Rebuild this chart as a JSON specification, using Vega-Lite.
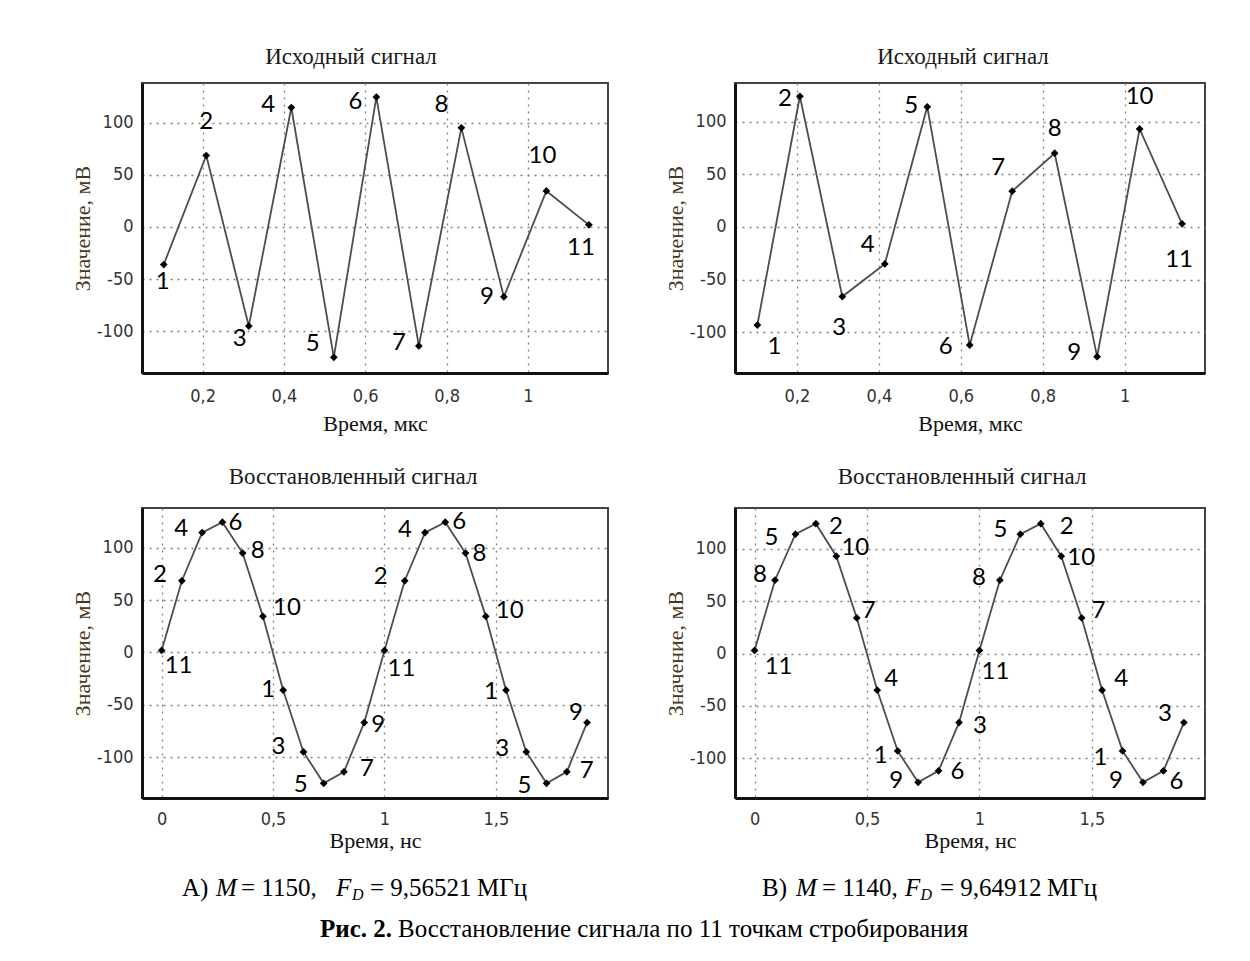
{
  "$schema": "https://vega.github.io/schema/vega-lite/v6.json",
  "padding": {"left": 70, "top": 45, "right": 0, "bottom": 0},
  "background": "white",
  "datasets": {
    "tl": [
      {"t": 0.1045, "v": -36, "n": 1}, {"t": 0.2091, "v": 68.5, "n": 2}, {"t": 0.3136, "v": -95, "n": 3},
      {"t": 0.4182, "v": 114.5, "n": 4}, {"t": 0.5227, "v": -125, "n": 5}, {"t": 0.6273, "v": 124.5, "n": 6},
      {"t": 0.7318, "v": -114, "n": 7}, {"t": 0.8364, "v": 95, "n": 8}, {"t": 0.9409, "v": -67, "n": 9},
      {"t": 1.0455, "v": 34.5, "n": 10}, {"t": 1.15, "v": 2, "n": 11}
    ],
    "tr": [
      {"t": 0.1036, "v": -93, "n": 1}, {"t": 0.2073, "v": 124, "n": 2}, {"t": 0.3109, "v": -66, "n": 3},
      {"t": 0.4146, "v": -35, "n": 4}, {"t": 0.5182, "v": 114, "n": 5}, {"t": 0.6218, "v": -112, "n": 6},
      {"t": 0.7255, "v": 34, "n": 7}, {"t": 0.8291, "v": 70, "n": 8}, {"t": 0.9327, "v": -123, "n": 9},
      {"t": 1.0364, "v": 93, "n": 10}, {"t": 1.14, "v": 3, "n": 11}
    ],
    "bl": [
      {"t": 0, "v": 2, "n": 11}, {"t": 0.0909, "v": 68.5, "n": 2}, {"t": 0.1818, "v": 114.5, "n": 4},
      {"t": 0.2727, "v": 124.5, "n": 6}, {"t": 0.3636, "v": 95, "n": 8}, {"t": 0.4545, "v": 34.5, "n": 10},
      {"t": 0.5455, "v": -36, "n": 1}, {"t": 0.6364, "v": -95, "n": 3}, {"t": 0.7273, "v": -125, "n": 5},
      {"t": 0.8182, "v": -114, "n": 7}, {"t": 0.9091, "v": -67, "n": 9},
      {"t": 1.0, "v": 2, "n": 11}, {"t": 1.0909, "v": 68.5, "n": 2}, {"t": 1.1818, "v": 114.5, "n": 4},
      {"t": 1.2727, "v": 124.5, "n": 6}, {"t": 1.3636, "v": 95, "n": 8}, {"t": 1.4545, "v": 34.5, "n": 10},
      {"t": 1.5455, "v": -36, "n": 1}, {"t": 1.6364, "v": -95, "n": 3}, {"t": 1.7273, "v": -125, "n": 5},
      {"t": 1.8182, "v": -114, "n": 7}, {"t": 1.9091, "v": -67, "n": 9}
    ],
    "br": [
      {"t": 0, "v": 3, "n": 11}, {"t": 0.0909, "v": 70, "n": 8}, {"t": 0.1818, "v": 114, "n": 5},
      {"t": 0.2727, "v": 124, "n": 2}, {"t": 0.3636, "v": 93, "n": 10}, {"t": 0.4545, "v": 34, "n": 7},
      {"t": 0.5455, "v": -35, "n": 4}, {"t": 0.6364, "v": -93, "n": 1}, {"t": 0.7273, "v": -123, "n": 9},
      {"t": 0.8182, "v": -112, "n": 6}, {"t": 0.9091, "v": -66, "n": 3},
      {"t": 1.0, "v": 3, "n": 11}, {"t": 1.0909, "v": 70, "n": 8}, {"t": 1.1818, "v": 114, "n": 5},
      {"t": 1.2727, "v": 124, "n": 2}, {"t": 1.3636, "v": 93, "n": 10}, {"t": 1.4545, "v": 34, "n": 7},
      {"t": 1.5455, "v": -35, "n": 4}, {"t": 1.6364, "v": -93, "n": 1}, {"t": 1.7273, "v": -123, "n": 9},
      {"t": 1.8182, "v": -112, "n": 6}, {"t": 1.9091, "v": -66, "n": 3}
    ],
    "cap": [
      {"col": "A", "row": "sub", "k": 0, "s": "А)"},
      {"col": "A", "row": "sub", "k": 1, "s": "M"},
      {"col": "A", "row": "sub", "k": 2, "s": "= 1150,"},
      {"col": "A", "row": "sub", "k": 3, "s": "F"},
      {"col": "A", "row": "sub", "k": 4, "s": "D"},
      {"col": "A", "row": "sub", "k": 5, "s": "= 9,56521"},
      {"col": "A", "row": "sub", "k": 6, "s": "МГц"},
      {"col": "B", "row": "sub", "k": 0, "s": "В)"},
      {"col": "B", "row": "sub", "k": 1, "s": "M"},
      {"col": "B", "row": "sub", "k": 2, "s": "= 1140,"},
      {"col": "B", "row": "sub", "k": 3, "s": "F"},
      {"col": "B", "row": "sub", "k": 4, "s": "D"},
      {"col": "B", "row": "sub", "k": 5, "s": "= 9,64912"},
      {"col": "B", "row": "sub", "k": 6, "s": "МГц"},
      {"col": "C", "row": "fig", "k": 0, "s": "Рис. 2."},
      {"col": "C", "row": "fig", "k": 1, "s": "Восстановление сигнала по 11 точкам стробирования"}
    ]
  },
  "vconcat": [
    {
      "hconcat": [
        {
          "vconcat": [
            {
              "width": 466, "height": 290,
              "title": {"text": "Исходный  сигнал", "offset": 14, "dx": -24},
              "data": {"name": "tl"},
              "encoding": {
                "x": {"field": "t", "type": "quantitative", "scale": {"domain": [0.051, 1.197], "nice": false, "zero": false},
                      "axis": {"title": "Время, мкс", "values": [0.2, 0.4, 0.6, 0.8, 1], "format": ".1~f", "labelPadding": 14, "titlePadding": 8}},
                "y": {"field": "v", "type": "quantitative", "scale": {"domain": [-140, 138], "nice": false, "zero": false},
                      "axis": {"title": "Значение, мВ", "values": [-100, -50, 0, 50, 100], "format": "d"}}
              },
              "layer": [
                {"mark": {"type": "line", "color": "#4d4d4d", "strokeWidth": 1.8}},
                {"mark": {"type": "point", "shape": "diamond", "filled": true, "color": "#000000", "opacity": 1, "size": 60}},
                {"mark": {"type": "text", "font": "Lato", "fontSize": 24, "color": "#000000",
                          "dx": {"expr": "[0,-1,0,-9,-23,-21,-21,-20,-20,-17,-4,-8][datum.n]"},
                          "dy": {"expr": "[0,17,-34,13,-3,-13,5,-3,-23,0,-35,23][datum.n]"}},
                 "encoding": {"text": {"field": "n", "type": "nominal"}}}
              ]
            },
            {
              "width": 466, "height": 290,
              "title": {"text": "Восстановленный  сигнал", "offset": 19, "dx": -22},
              "data": {"name": "bl"},
              "encoding": {
                "x": {"field": "t", "type": "quantitative", "scale": {"domain": [-0.088, 2.003], "nice": false, "zero": false},
                      "axis": {"title": "Время, нс", "values": [0, 0.5, 1, 1.5], "format": ".1~f", "labelPadding": 12, "titlePadding": 2}},
                "y": {"field": "v", "type": "quantitative", "scale": {"domain": [-139, 138], "nice": false, "zero": false},
                      "axis": {"title": "Значение, мВ", "values": [-100, -50, 0, 50, 100], "format": "d"}}
              },
              "layer": [
                {"mark": {"type": "line", "color": "#4d4d4d", "strokeWidth": 1.8}},
                {"mark": {"type": "point", "shape": "diamond", "filled": true, "color": "#000000", "opacity": 1, "size": 60}},
                {"mark": {"type": "text", "font": "Lato", "fontSize": 24, "color": "#000000",
                          "dx": {"expr": "[17,-22,-21,13,15,24,-15,-25,-23,23,14,17,-24,-20,14,14,24,-15,-24,-22,20,-11][round(datum.t*11)]"},
                          "dy": {"expr": "[16,-6,-4,1,-2,-8,0,-5,2,-3,2,19,-4,-3,0,1,-5,2,-3,3,-1,-10][round(datum.t*11)]"}},
                 "encoding": {"text": {"field": "n", "type": "nominal"}}}
              ]
            }
          ],
          "spacing": 30
        },
        {
          "vconcat": [
            {
              "width": 470, "height": 290,
              "title": {"text": "Исходный  сигнал", "offset": 14, "dx": -7},
              "data": {"name": "tr"},
              "encoding": {
                "x": {"field": "t", "type": "quantitative", "scale": {"domain": [0.049, 1.196], "nice": false, "zero": false},
                      "axis": {"title": "Время, мкс", "values": [0.2, 0.4, 0.6, 0.8, 1], "format": ".1~f", "labelPadding": 14, "titlePadding": 8}},
                "y": {"field": "v", "type": "quantitative", "scale": {"domain": [-138.5, 136.6], "nice": false, "zero": false},
                      "axis": {"title": "Значение, мВ", "values": [-100, -50, 0, 50, 100], "format": "d"}}
              },
              "layer": [
                {"mark": {"type": "line", "color": "#4d4d4d", "strokeWidth": 1.8}},
                {"mark": {"type": "point", "shape": "diamond", "filled": true, "color": "#000000", "opacity": 1, "size": 60}},
                {"mark": {"type": "text", "font": "Lato", "fontSize": 24, "color": "#000000",
                          "dx": {"expr": "[0,17,-15,-3,-17,-16,-24,-14,0,-23,0,-3][datum.n]"},
                          "dy": {"expr": "[0,22,3,31,-19,-1,2,-23,-24,-4,-32,36][datum.n]"}},
                 "encoding": {"text": {"field": "n", "type": "nominal"}}}
              ]
            },
            {
              "width": 470, "height": 290,
              "title": {"text": "Восстановленный  сигнал", "offset": 19, "dx": -8},
              "data": {"name": "br"},
              "encoding": {
                "x": {"field": "t", "type": "quantitative", "scale": {"domain": [-0.087, 2.003], "nice": false, "zero": false},
                      "axis": {"title": "Время, нс", "values": [0, 0.5, 1, 1.5], "format": ".1~f", "labelPadding": 12, "titlePadding": 2}},
                "y": {"field": "v", "type": "quantitative", "scale": {"domain": [-138, 139], "nice": false, "zero": false},
                      "axis": {"title": "Значение, мВ", "values": [-100, -50, 0, 50, 100], "format": "d"}}
              },
              "layer": [
                {"mark": {"type": "line", "color": "#4d4d4d", "strokeWidth": 1.8}},
                {"mark": {"type": "point", "shape": "diamond", "filled": true, "color": "#000000", "opacity": 1, "size": 60}},
                {"mark": {"type": "text", "font": "Lato", "fontSize": 24, "color": "#000000",
                          "dx": {"expr": "[24,-15,-24,20,19,12,14,-17,-22,19,21,16,-21,-20,26,20,17,19,-22,-27,13,-19][round(datum.t*11)]"},
                          "dy": {"expr": "[17,-5,4,3,-8,-7,-11,5,-1,1,3,22,-2,-4,3,2,-7,-11,7,-1,11,-9][round(datum.t*11)]"}},
                 "encoding": {"text": {"field": "n", "type": "nominal"}}}
              ]
            }
          ],
          "spacing": 30
        }
      ],
      "spacing": 54
    },
    {
      "width": 1022, "height": 82,
      "view": {"stroke": null},
      "data": {"name": "cap"},
      "encoding": {
        "x": {"field": "col", "type": "nominal", "scale": {"type": "point", "domain": ["A", "C", "B"], "padding": 0.762}, "axis": null},
        "y": {"field": "row", "type": "nominal", "scale": {"type": "point", "domain": ["sub", "fig"], "padding": 0.5}, "axis": null},
        "text": {"field": "s", "type": "nominal"}
      },
      "layer": [
        {"transform": [{"filter": "datum.col != 'C' && (datum.k == 0 || datum.k == 2 || datum.k == 5 || datum.k == 6)"}],
         "mark": {"type": "text", "font": "Liberation Serif", "fontSize": 25, "color": "#000000", "align": "left", "baseline": "middle",
                  "dx": {"expr": "datum.col == 'A' ? [-181,-147,-122,-27,-11,7,114][datum.k] : [-181,-147,-121,-38,-22.5,-3,104][datum.k]"}}},
        {"transform": [{"filter": "datum.col != 'C' && (datum.k == 1 || datum.k == 3)"}],
         "mark": {"type": "text", "font": "Liberation Serif", "fontSize": 25, "fontStyle": "italic", "color": "#000000", "align": "left", "baseline": "middle",
                  "dx": {"expr": "datum.col == 'A' ? [-181,-147,-122,-27,-11,7,114][datum.k] : [-181,-147,-121,-38,-22.5,-3,104][datum.k]"}}},
        {"transform": [{"filter": "datum.col != 'C' && datum.k == 4"}],
         "mark": {"type": "text", "font": "Liberation Serif", "fontSize": 16, "fontStyle": "italic", "color": "#000000", "align": "left", "baseline": "middle", "dy": 7,
                  "dx": {"expr": "datum.col == 'A' ? [-181,-147,-122,-27,-11,7,114][datum.k] : [-181,-147,-121,-38,-22.5,-3,104][datum.k]"}}},
        {"transform": [{"filter": "datum.col == 'C' && datum.k == 0"}],
         "mark": {"type": "text", "font": "Liberation Serif", "fontSize": 25, "fontWeight": "bold", "color": "#000000", "align": "right", "baseline": "middle", "dx": -261}},
        {"transform": [{"filter": "datum.col == 'C' && datum.k == 1"}],
         "mark": {"type": "text", "font": "Liberation Serif", "fontSize": 25, "color": "#000000", "align": "left", "baseline": "middle", "dx": -255}}
      ]
    }
  ],
  "spacing": 15,
  "config": {
    "locale": {"number": {"decimal": ",", "thousands": " ", "grouping": [3], "currency": ["", ""], "minus": "-"}},
    "view": {"stroke": "#444444", "strokeWidth": 2},
    "title": {"font": "Liberation Serif", "fontSize": 23, "fontWeight": "normal", "color": "#1a1a1a", "anchor": "middle"},
    "axis": {
      "domainColor": "#111111", "domainWidth": 3, "ticks": false, "tickSize": 0,
      "grid": true, "gridColor": "#808080", "gridDash": [2, 5], "gridWidth": 1.3,
      "labelFont": "DejaVu Sans Condensed, Liberation Sans Narrow, DejaVu Sans, sans-serif", "labelFontSize": 18, "labelColor": "#333333",
      "titleFont": "Liberation Serif", "titleFontSize": 22, "titleFontWeight": "normal", "titleColor": "#111111"
    },
    "axisY": {"labelPadding": 9, "titlePadding": 2, "titleColor": "#4a3520"}
  }
}
